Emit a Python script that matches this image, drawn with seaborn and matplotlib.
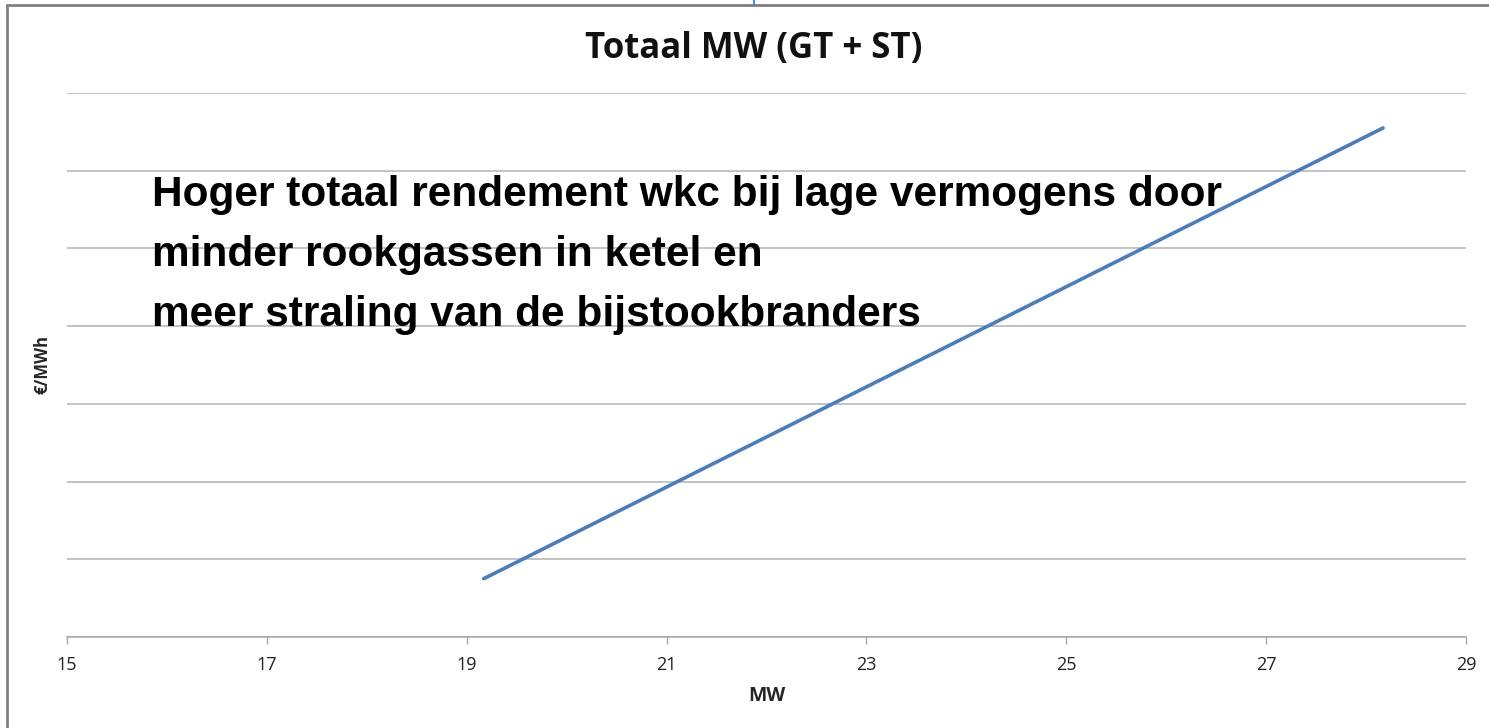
import matplotlib
matplotlib.use("Agg")
import matplotlib.pyplot as plt
from matplotlib.lines import Line2D
import seaborn as sns
import pandas as pd

# Data
mw = [19.17, 28.17]
eur_per_mwh = [0.75, 6.55]
x_ticks = [15, 17, 19, 21, 23, 25, 27, 29]
y_grid = [0, 1, 2, 3, 4, 5, 6, 7]

title = "Totaal MW (GT + ST)"
note_lines = ["Hoger totaal rendement wkc bij lage vermogens door",
              "minder rookgassen in ketel en",
              "meer straling van de bijstookbranders"]

sns.set_theme(style="white")
plt.rcParams['font.family'] = ['Open Sans', 'DejaVu Sans']

df = pd.DataFrame({"MW": mw, "val": eur_per_mwh})

fig = plt.figure(figsize=(14.89, 7.28), dpi=100)
ax = fig.add_axes([67/1489, 91/728, 1399/1489, 544/728])

sns.lineplot(data=df, x="MW", y="val", ax=ax, color="#4a7ebb", linewidth=2.6,
             solid_capstyle="round")

ax.set_xlim(15, 29)
ax.set_ylim(0, 7)
ax.set_xticks(x_ticks)
ax.set_xticklabels([str(t) for t in x_ticks], fontsize=13, color="#222222")
ax.set_yticks(y_grid)
ax.set_yticklabels([])
ax.yaxis.grid(True, color="#b3b3b3", linewidth=1.1)
ax.xaxis.grid(False)
for s in ["left", "right", "top"]:
    ax.spines[s].set_visible(False)
ax.spines["bottom"].set_color("#a6a6a6")
ax.spines["bottom"].set_linewidth(1.1)
ax.tick_params(axis="x", bottom=True, length=5, width=1, color="#a6a6a6",
               pad=9, direction="out")
ax.tick_params(axis="y", left=False)

ax.set_xlabel("MW", fontsize=14, fontweight="bold", labelpad=8)
ax.set_ylabel("€/MWh", fontsize=12, fontweight="bold", labelpad=6)
ax.yaxis.set_label_coords(-0.011, 0.5)

fig.text(754/1489, 1 - 49/728, title, ha="center", va="center",
         fontsize=25, fontweight="bold", color="#111111")

for i, line in enumerate(note_lines):
    fig.text(152/1489, 1 - (195 + i * 60)/728, line, ha="left", va="center",
             fontsize=30.5, fontweight="bold", color="#000000",
             family=["Liberation Sans", "DejaVu Sans"])

# frame lines (top and left) and small blue marker
fig.add_artist(Line2D([7/1489, 1], [1 - 5/728, 1 - 5/728], color="#808080",
                      linewidth=2, transform=fig.transFigure))
fig.add_artist(Line2D([7/1489, 7/1489], [0, 1 - 5/728], color="#808080",
                      linewidth=2, transform=fig.transFigure))
fig.add_artist(Line2D([754/1489, 754/1489], [1 - 5/728, 1], color="#2a7fd4",
                      linewidth=1.2, transform=fig.transFigure))

fig.savefig("out.png", dpi=100)
